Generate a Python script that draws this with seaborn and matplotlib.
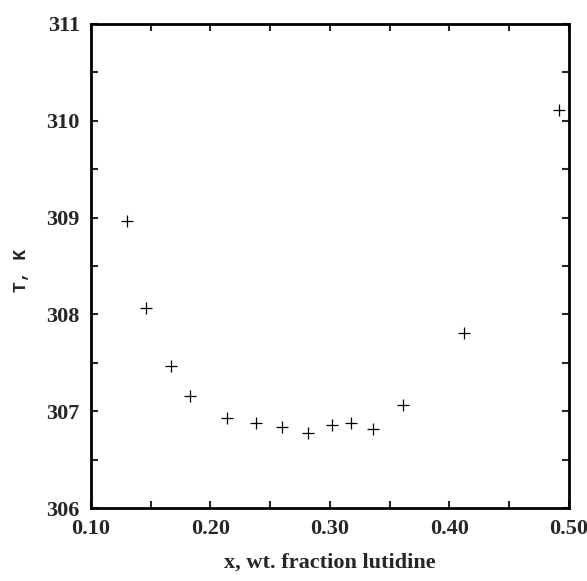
import numpy as np
import pandas as pd
import matplotlib
matplotlib.use('Agg')
import matplotlib.pyplot as plt
import seaborn as sns
from matplotlib.ticker import MultipleLocator

# coexistence curve points
frac = [0.130, 0.146, 0.167, 0.183, 0.214, 0.238, 0.260, 0.282,
        0.302, 0.318, 0.336, 0.361, 0.412, 0.492]
temp = [308.97, 308.07, 307.47, 307.16, 306.93, 306.88, 306.84, 306.77,
        306.86, 306.88, 306.82, 307.06, 307.81, 310.11]

x_ticks = [0.10, 0.20, 0.30, 0.40, 0.50]
x_labels = ['0.10', '0.20', '0.30', '0.40', '0.50']
y_ticks = [306, 307, 308, 309, 310, 311]

df = pd.DataFrame({'frac': frac, 'temp': temp})

sns.set_style('ticks')
plt.rcParams['font.family'] = ['Liberation Serif', 'DejaVu Serif']

fig = plt.figure(figsize=(5.87, 5.81), dpi=100)
ax = fig.add_axes([0.155, 0.1256, 0.814, 0.8331])

sns.scatterplot(data=df, x='frac', y='temp', marker='+', s=70,
                color='black', linewidth=0.9, ax=ax)

ax.set_xlim(0.10, 0.50)
ax.set_ylim(306, 311)
ax.set_xticks(x_ticks)
ax.set_xticklabels(x_labels)
ax.set_yticks(y_ticks)
ax.xaxis.set_minor_locator(MultipleLocator(0.05))
ax.yaxis.set_minor_locator(MultipleLocator(0.5))
ax.tick_params(which='both', direction='in', length=5, width=1.5,
               top=True, right=True, labelsize=16, pad=8)
for lab in ax.get_xticklabels() + ax.get_yticklabels():
    lab.set_fontweight('bold')
for sp in ax.spines.values():
    sp.set_linewidth(2)
    sp.set_color('black')

ax.set_xlabel('x, wt. fraction lutidine', fontsize=16, fontweight='bold')
ax.xaxis.set_label_coords(0.5, -0.092)
ax.set_ylabel('T, K', fontsize=13, fontweight='bold',
              family=['Liberation Mono', 'DejaVu Sans Mono'])
ax.yaxis.set_label_coords(-0.128, 0.49)

fig.savefig('out.png', dpi=100)
